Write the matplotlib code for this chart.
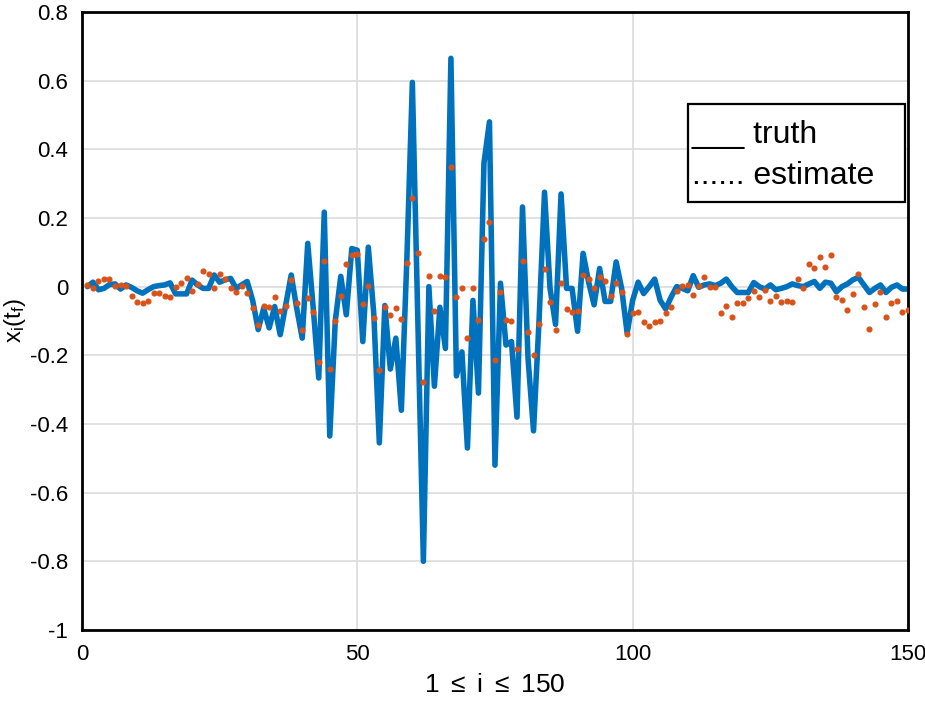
import numpy as np
import matplotlib
matplotlib.use('Agg')
import matplotlib.pyplot as plt
from matplotlib import font_manager
from matplotlib.patches import Rectangle

# DATA
idx = np.arange(1, 151)
truth = [0.0, 0.013, -0.009, -0.005, 0.006, 0.008, -0.007, 0.005, -0.002, -0.012,
         -0.019, -0.009, 0.0, 0.003, 0.005, 0.011, -0.021, -0.021, -0.021, 0.019,
         0.005, -0.005, -0.005, 0.034, 0.013, 0.02, 0.024, -0.005, 0.005, 0.015,
         -0.04, -0.125, -0.063, -0.12, -0.058, -0.14, -0.053, 0.034, -0.063, -0.15,
         0.126, -0.063, -0.266, 0.217, -0.435, -0.1, 0.03, -0.082, 0.111, 0.106,
         -0.16, 0.115, -0.08, -0.455, -0.055, -0.24, -0.15, -0.36, 0.08, 0.595,
         -0.1, -0.8, 0.0, -0.29, -0.06, -0.18, 0.665, -0.26, -0.19, -0.47,
         -0.04, -0.31, 0.36, 0.48, -0.52, 0.01, -0.17, -0.16, -0.38, 0.232,
         -0.208, -0.42, -0.1, 0.275, -0.005, -0.11, 0.27, -0.005, -0.005, -0.13,
         0.097, 0.014, -0.053, 0.053, -0.043, -0.043, 0.072, -0.005, -0.135, -0.04,
         0.013, -0.02, 0.0, 0.022, -0.04, -0.065, -0.03, 0.0, -0.005, -0.012,
         0.032, -0.002, 0.005, 0.008, 0.003, 0.01, 0.022, 0.0, -0.017, -0.017,
         -0.017, 0.012, 0.0, -0.007, 0.005, -0.009, -0.005, 0.0, 0.008, 0.003,
         0.0, 0.008, 0.015, -0.005, 0.013, 0.01, -0.015, 0.0, 0.008, 0.02,
         0.027, 0.005, -0.017, -0.005, 0.005, -0.017, -0.002, 0.005, -0.007, -0.007]
estimate = [0.006, -0.005, 0.016, 0.021, 0.021, 0.003, 0.006, 0.003, -0.026, -0.046,
            -0.049, -0.043, -0.019, -0.019, -0.026, -0.029, 0.0, 0.011, 0.025, -0.012,
            0.008, 0.045, 0.038, -0.003, 0.038, 0.023, -0.005, -0.016, 0.003, -0.019,
            -0.062, -0.112, -0.055, -0.06, -0.03, -0.071, -0.055, 0.018, -0.048, -0.125,
            -0.033, -0.074, -0.219, 0.074, -0.24, -0.1, -0.028, 0.065, 0.091, 0.096,
            -0.05, 0.002, -0.091, -0.243, -0.058, -0.083, -0.063, -0.095, 0.068, 0.257,
            0.097, -0.277, 0.03, -0.072, 0.03, 0.027, 0.348, -0.03, -0.003, -0.15,
            -0.005, -0.096, 0.14, 0.187, -0.214, -0.015, -0.096, -0.101, -0.181, 0.074,
            -0.133, -0.198, -0.108, 0.05, -0.046, -0.126, 0.012, -0.065, -0.074, -0.071,
            0.034, 0.022, -0.003, 0.027, 0.017, -0.027, 0.012, -0.016, -0.137, -0.076,
            -0.073, -0.104, -0.114, -0.102, -0.099, -0.078, -0.06, -0.012, 0.003, 0.006,
            -0.023, 0.001, 0.029, -0.002, -0.002, -0.077, -0.055, -0.087, -0.049, -0.047,
            -0.034, -0.012, -0.031, -0.009, -0.041, -0.026, -0.044, -0.041, -0.044, 0.022,
            -0.005, 0.066, 0.053, 0.087, 0.058, 0.093, -0.031, -0.038, -0.067, -0.02,
            0.037, -0.06, -0.123, -0.05, -0.015, -0.087, -0.047, -0.041, -0.075, -0.067]
xticks = [0, 50, 100, 150]
yticks = [-1, -0.8, -0.6, -0.4, -0.2, 0, 0.2, 0.4, 0.6, 0.8]
ytick_labels = ['-1', '-0.8', '-0.6', '-0.4', '-0.2', '0', '0.2', '0.4', '0.6', '0.8']
legend_lines = ['___ truth', '...... estimate']

# FONT
names = {f.name for f in font_manager.fontManager.ttflist}
fam = 'Liberation Sans Narrow' if 'Liberation Sans Narrow' in names else 'Liberation Sans'
plt.rcParams['font.family'] = [fam, 'DejaVu Sans']
plt.rcParams['mathtext.fontset'] = 'custom'
plt.rcParams['mathtext.rm'] = fam
plt.rcParams['mathtext.it'] = fam

# PLOT
fig = plt.figure(figsize=(9.25, 7.01), dpi=100)
ax = fig.add_axes([0.0886, 0.1013, 0.893, 0.8816])
ax.plot(idx, truth, color='#0072BD', linewidth=4.0, zorder=2,
        solid_joinstyle='round', solid_capstyle='round')
ax.plot(idx, estimate, linestyle='none', marker='o', markersize=3.4,
        color='#D95319', zorder=3)
ax.set_xlim(0, 150)
ax.set_ylim(-1, 0.8)
ax.set_xticks(xticks)
ax.set_yticks(yticks)
ax.set_yticklabels(ytick_labels)
ax.grid(True, color='#dcdcdc', linewidth=1.2)
ax.set_axisbelow(True)
ax.tick_params(direction='in', length=0, width=1.2, labelsize=16, pad=10)
for s in ax.spines.values():
    s.set_linewidth(2.0)
ax.set_xlabel(r'1 $\leq$ i $\leq$ 150', fontsize=19, labelpad=6)
ax.set_ylabel(r'x$_\mathrm{i}$(t$_\mathrm{f}$)', fontsize=17, labelpad=1)

# legend box (text only, as in the original)
ax.add_patch(Rectangle((0.7337, 0.6926), 0.2627, 0.1585, transform=ax.transAxes,
                       facecolor='white', edgecolor='black', linewidth=1.6, zorder=5))
ax.text(0.7385, 0.801, legend_lines[0], transform=ax.transAxes, fontsize=23,
        va='center', ha='left', zorder=6)
ax.text(0.7385, 0.735, legend_lines[1], transform=ax.transAxes, fontsize=23,
        va='center', ha='left', zorder=6)

plt.savefig('out.png', dpi=100)
